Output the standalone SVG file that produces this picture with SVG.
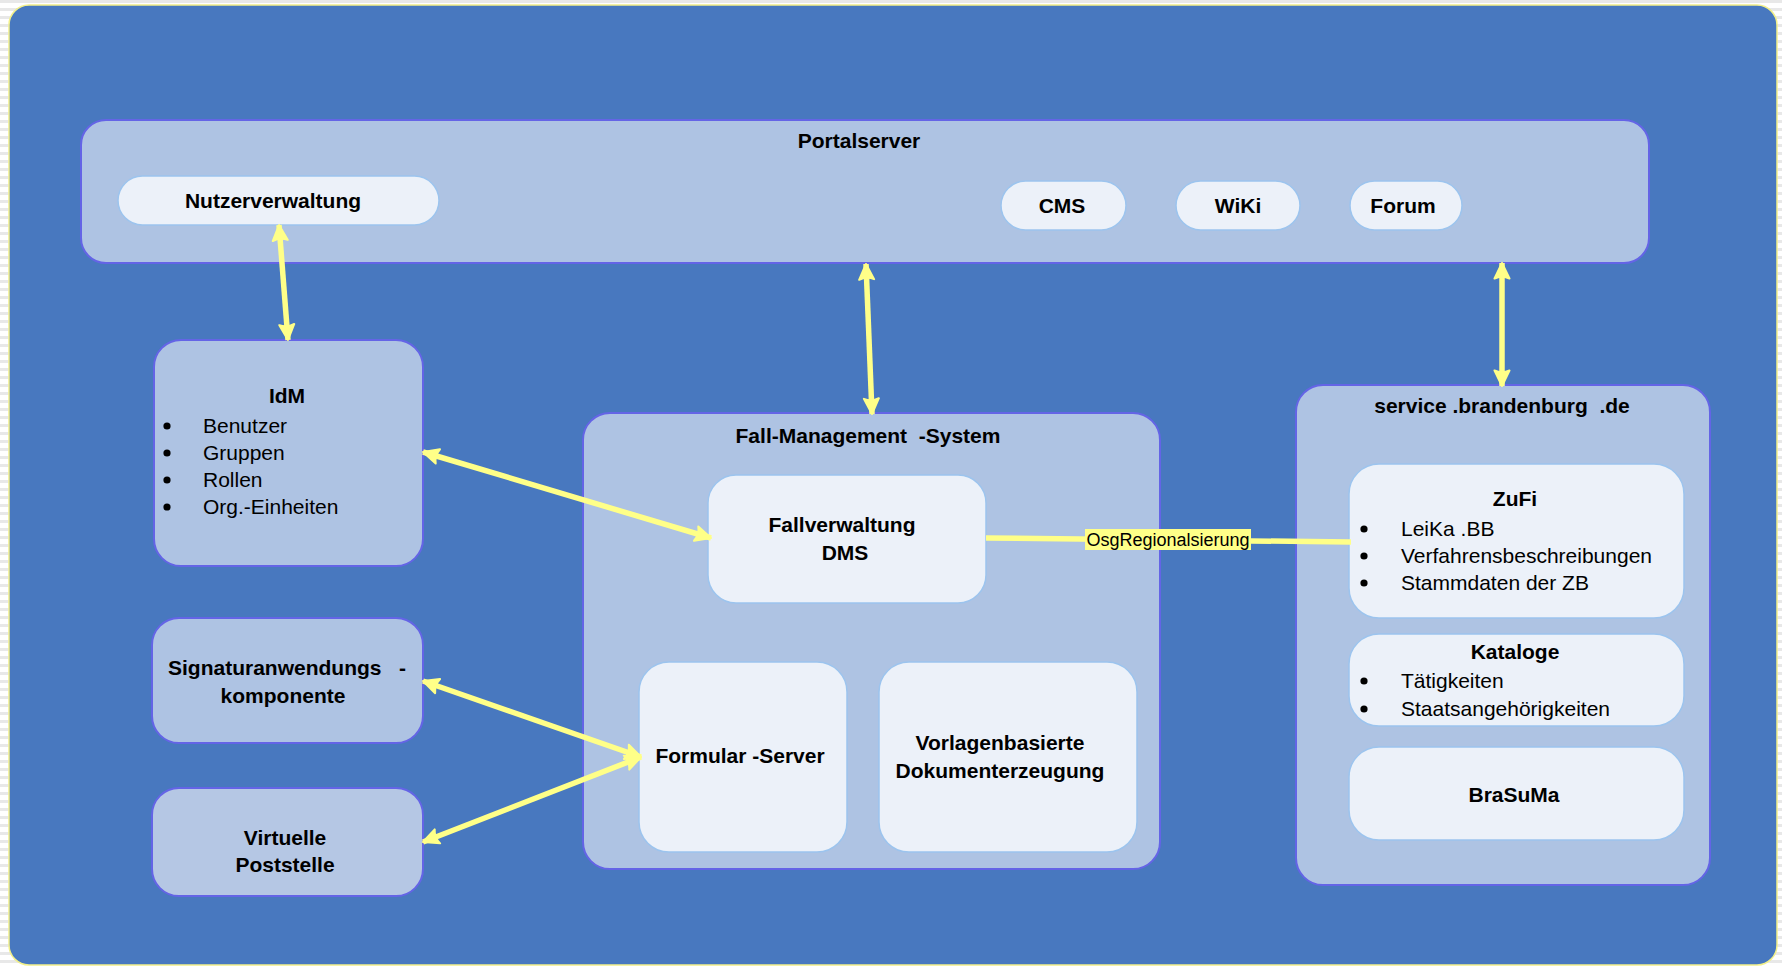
<svg xmlns="http://www.w3.org/2000/svg" width="1782" height="967" viewBox="0 0 1782 967">
<style>
.cont{fill:#AEC3E3;stroke:#6464E6;stroke-width:2}
.inner{fill:#ECF1F9;stroke:#9CC4EE;stroke-width:1.5}
.t{font-family:"Liberation Sans",Arial,sans-serif;font-size:21px;fill:#000}
.b{font-weight:bold;text-anchor:middle}
.dot{fill:#000}
.c{stroke:#FFFF88;stroke-width:5.5;fill:none}
.lbl{font-family:"Liberation Sans",Arial,sans-serif;font-size:18px;fill:#000;text-anchor:middle}
</style>
<defs>
<pattern id="stripes" width="8" height="8" patternUnits="userSpaceOnUse">
<rect width="8" height="8" fill="#FFFFFF"/>
<rect y="0" width="8" height="3" fill="#E8E8E8"/>
</pattern>
<marker id="ah" viewBox="0 0 18 18" refX="17" refY="9" markerWidth="18" markerHeight="18" markerUnits="userSpaceOnUse" orient="auto-start-reverse">
<path d="M1.5,1.5 L17,9 L1.5,16.5 Q5,9 1.5,1.5 z" fill="#FFFF88" stroke="#FFFF88" stroke-width="2" stroke-linejoin="round"/>
</marker>
</defs>
<rect width="1782" height="967" fill="url(#stripes)"/>
<rect id="outer" x="9" y="5" width="1768" height="960" rx="20" fill="#4878BF" stroke="#F2F08A" stroke-width="1.5"/>

<g id="portalserver">
<rect class="cont" x="81" y="120" width="1568" height="143" rx="25"/>
<text class="t b" x="859" y="148">Portalserver</text>
</g>
<g id="nutzerverwaltung">
<rect class="inner" x="118" y="176" width="321" height="49" rx="24.5"/>
<text class="t b" x="273" y="208">Nutzerverwaltung</text>
</g>
<g id="cms">
<rect class="inner" x="1001" y="181" width="125" height="49" rx="24.5"/>
<text class="t b" x="1062" y="213">CMS</text>
</g>
<g id="wiki">
<rect class="inner" x="1176" y="181" width="124" height="49" rx="24.5"/>
<text class="t b" x="1238" y="213">WiKi</text>
</g>
<g id="forum">
<rect class="inner" x="1350" y="181" width="112" height="49" rx="24.5"/>
<text class="t b" x="1403" y="213">Forum</text>
</g>

<g id="idm">
<rect class="cont" x="154" y="340" width="269" height="226" rx="27"/>
<text class="t b" x="287" y="403">IdM</text>
<circle class="dot" cx="167" cy="426" r="3.6"/>
<circle class="dot" cx="167" cy="453" r="3.6"/>
<circle class="dot" cx="167" cy="480" r="3.6"/>
<circle class="dot" cx="167" cy="507" r="3.6"/>
<g class="t">
<text x="203" y="433">Benutzer</text>
<text x="203" y="460">Gruppen</text>
<text x="203" y="487">Rollen</text>
<text x="203" y="514">Org.-Einheiten</text>
</g>
</g>

<g id="signatur">
<rect class="cont" x="152" y="618" width="271" height="125" rx="27"/>
<text class="t b" x="287" y="675" xml:space="preserve">Signaturanwendungs   -</text>
<text class="t b" x="283" y="703">komponente</text>
</g>

<g id="poststelle">
<rect class="cont" x="152" y="788" width="271" height="108" rx="27" style="fill:#B5C7E4"/>
<text class="t b" x="285" y="845">Virtuelle</text>
<text class="t b" x="285" y="872">Poststelle</text>
</g>

<g id="fms">
<rect class="cont" x="583" y="413" width="577" height="456" rx="27"/>
<text class="t b" x="868" y="443" xml:space="preserve">Fall-Management  -System</text>
</g>
<g id="fallverwaltung">
<rect class="inner" x="708" y="475" width="278" height="128" rx="28"/>
<text class="t b" x="842" y="532">Fallverwaltung</text>
<text class="t b" x="845" y="560">DMS</text>
</g>
<g id="formular">
<rect class="inner" x="639" y="662" width="208" height="190" rx="30"/>
<text class="t b" x="740" y="763" xml:space="preserve">Formular -Server</text>
</g>
<g id="vorlagen">
<rect class="inner" x="879" y="662" width="258" height="190" rx="30"/>
<text class="t b" x="1000" y="750">Vorlagenbasierte</text>
<text class="t b" x="1000" y="778">Dokumenterzeugung</text>
</g>

<g id="servicebb">
<rect class="cont" x="1296" y="385" width="414" height="500" rx="27"/>
<text class="t b" x="1502" y="413" xml:space="preserve">service .brandenburg  .de</text>
</g>
<g id="zufi">
<rect class="inner" x="1349" y="464" width="335" height="154" rx="30"/>
<text class="t b" x="1515" y="506">ZuFi</text>
<circle class="dot" cx="1364" cy="529" r="3.6"/>
<circle class="dot" cx="1364" cy="556" r="3.6"/>
<circle class="dot" cx="1364" cy="583" r="3.6"/>
<g class="t">
<text x="1401" y="536" xml:space="preserve">LeiKa .BB</text>
<text x="1401" y="563">Verfahrensbeschreibungen</text>
<text x="1401" y="590">Stammdaten der ZB</text>
</g>
</g>
<g id="kataloge">
<rect class="inner" x="1349" y="634" width="335" height="92" rx="30"/>
<text class="t b" x="1515" y="659">Kataloge</text>
<circle class="dot" cx="1364" cy="681" r="3.6"/>
<circle class="dot" cx="1364" cy="709" r="3.6"/>
<g class="t">
<text x="1401" y="688">Tätigkeiten</text>
<text x="1401" y="716">Staatsangehörigkeiten</text>
</g>
</g>
<g id="brasuma">
<rect class="inner" x="1349" y="747" width="335" height="93" rx="30"/>
<text class="t b" x="1514" y="802">BraSuMa</text>
</g>

<g id="connectors">
<line class="c" x1="279" y1="225" x2="288" y2="340" marker-start="url(#ah)" marker-end="url(#ah)"/>
<line class="c" x1="866" y1="264" x2="872" y2="414" marker-start="url(#ah)" marker-end="url(#ah)"/>
<line class="c" x1="1502" y1="263" x2="1502" y2="386" marker-start="url(#ah)" marker-end="url(#ah)"/>
<line class="c" x1="423" y1="452" x2="711" y2="538" marker-start="url(#ah)" marker-end="url(#ah)"/>
<line class="c" x1="423" y1="681" x2="641" y2="757" marker-start="url(#ah)" marker-end="url(#ah)"/>
<line class="c" x1="423" y1="842" x2="641" y2="757" marker-start="url(#ah)" marker-end="url(#ah)"/>
<line class="c" x1="986" y1="538" x2="1351" y2="542"/>
<rect x="1085" y="529" width="166" height="21" fill="#FFFF88"/>
<text class="lbl" x="1168" y="546">OsgRegionalsierung</text>
</g>
</svg>
